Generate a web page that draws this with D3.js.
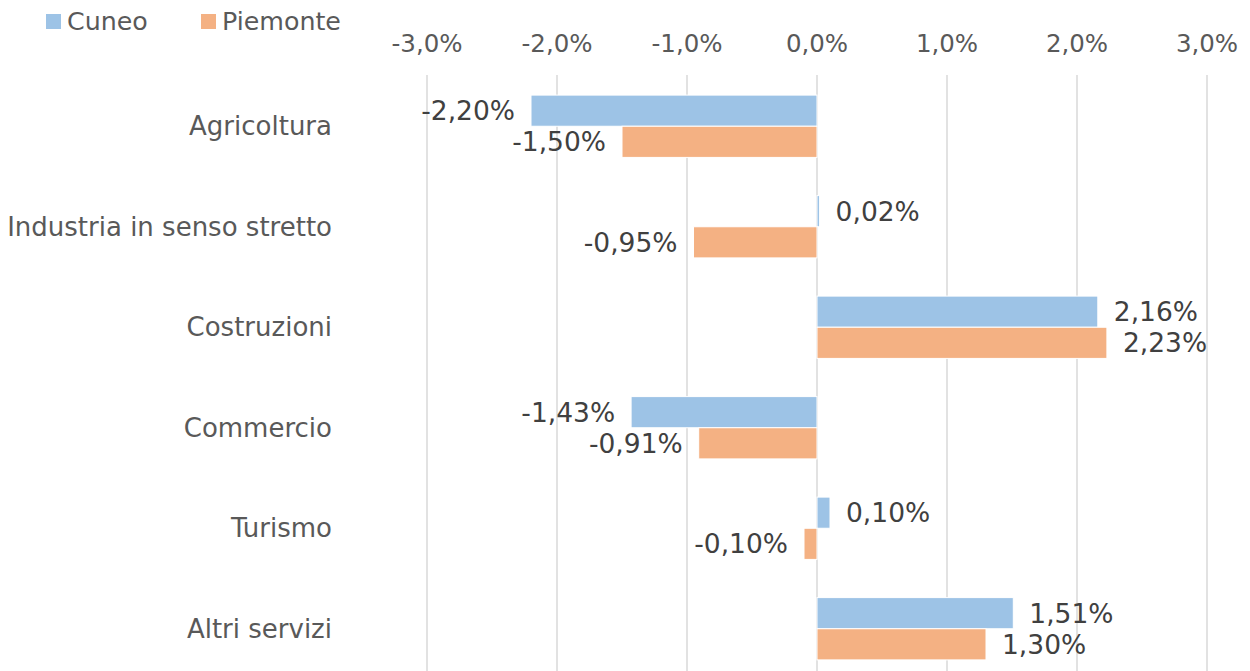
<!DOCTYPE html>
<html>
<head>
<meta charset="utf-8">
<script src="https://cdn.jsdelivr.net/npm/d3@7"></script>
<style>
  body { margin: 0; background: #fff; }
  svg { font-family: "DejaVu Sans", Verdana, sans-serif; }
</style>
</head>
<body>
<svg width="1250" height="671"></svg>
<script>
const categories = ["Agricoltura", "Industria in senso stretto", "Costruzioni", "Commercio", "Turismo", "Altri servizi"];
const cuneo = [-2.20, 0.02, 2.16, -1.43, 0.10, 1.51];
const piemonte = [-1.50, -0.95, 2.23, -0.91, -0.10, 1.30];
const seriesNames = ["Cuneo", "Piemonte"];
const colors = ["#9DC3E6", "#F4B183"];
const ticks = [-3, -2, -1, 0, 1, 2, 3];

const fmt = (v, d) => v.toFixed(d).replace(".", ",") + "%";

const svg = d3.select("svg");

const x = d3.scaleLinear().domain([-3, 3]).range([427, 1207]);
const y = d3.scaleBand().domain(categories).range([76, 679]).paddingInner(0.38).paddingOuter(0.19);
const ySub = d3.scaleBand().domain(seriesNames).range([0, y.bandwidth()]);

// gridlines
svg.selectAll(".grid")
    .data(ticks)
    .enter()
    .append("line")
    .attr("x1", d => x(d))
    .attr("x2", d => x(d))
    .attr("y1", 75)
    .attr("y2", 671)
    .attr("stroke", "#d9d9d9")
    .attr("stroke-width", 1.5);

// tick labels
svg.selectAll(".tick")
    .data(ticks)
    .enter()
    .append("text")
    .attr("x", d => x(d))
    .attr("y", 43)
    .attr("text-anchor", "middle")
    .attr("dominant-baseline", "central")
    .attr("fill", "#595959")
    .style("font-size", "24.5px")
    .text(d => fmt(d, 1));

// category labels
svg.selectAll(".cat")
    .data(categories)
    .enter()
    .append("text")
    .attr("x", 332)
    .attr("y", d => y(d) + y.bandwidth() / 2)
    .attr("text-anchor", "end")
    .attr("dominant-baseline", "central")
    .attr("fill", "#595959")
    .style("font-size", "26px")
    .text(d => d);

const rows = [];
categories.forEach((c, i) => {
    rows.push({ cat: c, s: "Cuneo", v: cuneo[i], col: colors[0] });
    rows.push({ cat: c, s: "Piemonte", v: piemonte[i], col: colors[1] });
});

svg.selectAll(".bar")
    .data(rows)
    .enter()
    .append("rect")
    .attr("x", d => Math.min(x(0), x(d.v)))
    .attr("y", d => y(d.cat) + ySub(d.s))
    .attr("width", d => Math.max(Math.abs(x(d.v) - x(0)), 1.5))
    .attr("height", ySub.bandwidth())
    .attr("fill", d => d.col)
    .attr("stroke", "#fff")
    .attr("stroke-width", 1);

svg.selectAll(".lbl")
    .data(rows)
    .enter()
    .append("text")
    .attr("x", d => d.v >= 0 ? Math.max(x(d.v), x(0)) + 16 : x(d.v) - 16)
    .attr("y", d => y(d.cat) + ySub(d.s) + ySub.bandwidth() / 2)
    .attr("text-anchor", d => d.v >= 0 ? "start" : "end")
    .attr("dominant-baseline", "central")
    .attr("fill", "#404040")
    .style("font-size", "26.5px")
    .text(d => fmt(d.v, 2));

// legend
const leg = svg.selectAll(".leg")
    .data(seriesNames)
    .enter()
    .append("g")
    .attr("transform", (d, i) => `translate(${[46, 201][i]},14)`);
leg.append("rect")
    .attr("width", 15)
    .attr("height", 15)
    .attr("fill", (d, i) => colors[i]);
leg.append("text")
    .attr("x", 21)
    .attr("y", 7.5)
    .attr("dominant-baseline", "central")
    .attr("fill", "#595959")
    .style("font-size", "25.3px")
    .text(d => d);
</script>
</body>
</html>
